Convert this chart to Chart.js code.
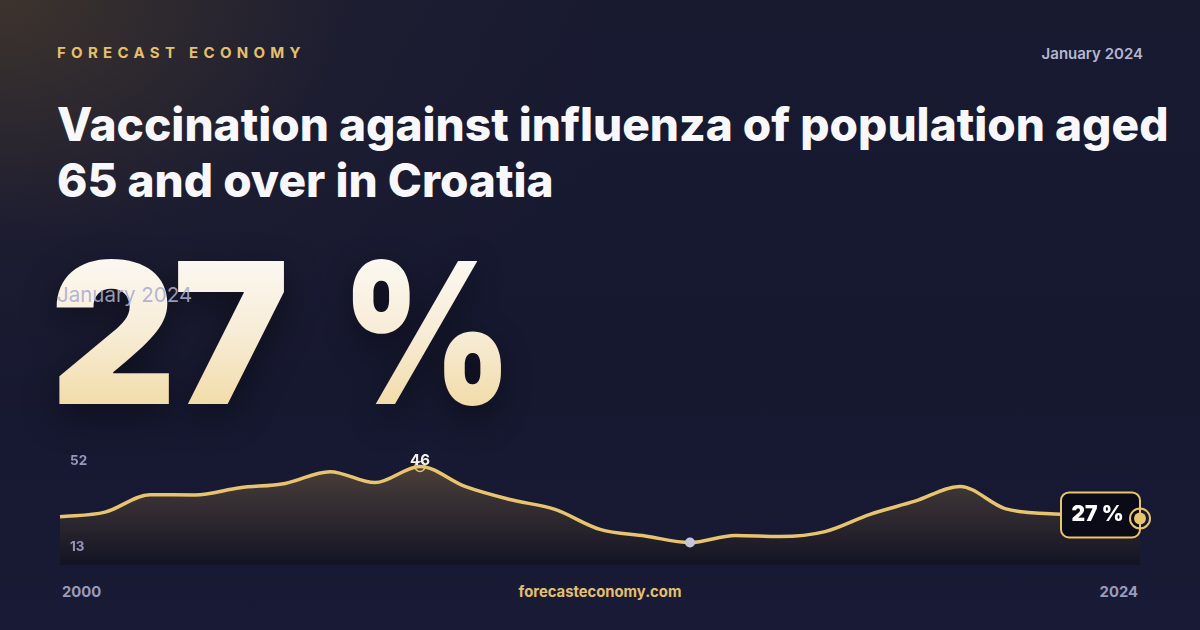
<!DOCTYPE html>
<html>
<head>
<meta charset="utf-8">
<script src="https://cdn.jsdelivr.net/npm/chart.js@4.4.1/dist/chart.umd.min.js"></script>
<style>
  html, body { margin: 0; padding: 0; }
  body {
    width: 1200px; height: 630px; overflow: hidden; position: relative;
    font-family: Inter, "Noto Sans", sans-serif;
    background:
      radial-gradient(ellipse 640px 440px at 0 0, rgba(70,58,44,0.8), rgba(40,36,50,0.3) 55%, rgba(22,24,48,0) 100%),
      linear-gradient(180deg, #181a30 0%, #161830 60%, #191b36 100%);
  }
  .brand { position: absolute; left: 57px; top: 43px; color: #e5c06c; font-weight: 700; font-size: 15px; letter-spacing: 5.3px; }
  .date-top { position: absolute; right: 57px; top: 44px; color: #b4b6cf; font-weight: 600; font-size: 15px; }
  h1 { position: absolute; left: 57px; top: 96px; margin: 0; width: 1130px; color: #f8f8fc; font-weight: 800; font-size: 46px; line-height: 56px; letter-spacing: 0; }
  .big { position: absolute; top: 235px; font-weight: 900; font-size: 196px; line-height: 1; letter-spacing: -4px;
    background: linear-gradient(180deg, #fdfcfa 0%, #f7ecd6 50%, #f0d699 100%);
    -webkit-background-clip: text; background-clip: text; color: transparent;
    filter: drop-shadow(0 12px 18px rgba(0,0,0,0.45)); white-space: pre; }
  .big.pct { transform: scaleX(0.84); transform-origin: 0 0; }
  .date-big { position: absolute; left: 57px; top: 282px; color: rgba(170,172,205,0.88); font-size: 20.5px; font-weight: 400; }
  .ylab { position: absolute; left: 70px; color: #9496ba; font-weight: 700; font-size: 13.5px; z-index: 2; }
  .foot { position: absolute; top: 583px; font-weight: 700; font-size: 14.8px; color: #9a9cbb; }
  #wrap { position: absolute; left: 40px; top: 430px; width: 1120px; height: 135px; z-index: 1; }
</style>
</head>
<body>
<div class="brand">FORECAST ECONOMY</div>
<div class="date-top">January 2024</div>
<h1>Vaccination against influenza of population aged 65 and over in Croatia</h1>
<div class="big" id="bigNum" style="left:50px"></div>
<div class="big pct" id="bigUnit" style="left:341px"></div>
<div class="date-big">January 2024</div>
<div id="wrap"><canvas id="chart" width="1120" height="135"></canvas></div>
<div class="ylab" id="yTop" style="top:452px"></div>
<div class="ylab" id="yBot" style="top:538px"></div>
<div class="foot" id="xFirst" style="left:62px"></div>
<div class="foot" style="left:0; width:1200px; text-align:center; color:#e5c06c">forecasteconomy.com</div>
<div class="foot" id="xLast" style="right:62px"></div>
<script>
// Vaccination coverage, % of population 65+, Croatia
const years = ['2000', '2001', '2002', '2003', '2004', '2005', '2006', '2007', '2008', '2009', '2010', '2011', '2012',
  '2013', '2014', '2015', '2016', '2017', '2018', '2019', '2020', '2021', '2022', '2023', '2024'];
const coverage = [27.6, 29.3, 35.7, 35.6, 38.2, 39.8, 44.1, 40.1, 46, 38.7, 33.9, 30.3, 23.0,
  20.6, 18.2, 20.8, 20.4, 22.2, 28.5, 33.3, 38.7, 30.6, 28.7, 28.1, 27];
const yTicks = ['52', '13'];
const unit = '%';

const latest = coverage[coverage.length - 1];
document.getElementById('bigNum').textContent = String(latest);
document.getElementById('bigUnit').textContent = unit;
document.getElementById('yTop').textContent = yTicks[0];
document.getElementById('yBot').textContent = yTicks[1];
document.getElementById('xFirst').textContent = years[0];
document.getElementById('xLast').textContent = years[years.length - 1];

const gold = '#e8c46f';

function roundRect(ctx, x, y, w, h, r) {
    ctx.beginPath();
    ctx.moveTo(x + r, y);
    ctx.arcTo(x + w, y, x + w, y + h, r);
    ctx.arcTo(x + w, y + h, x, y + h, r);
    ctx.arcTo(x, y + h, x, y, r);
    ctx.arcTo(x, y, x + w, y, r);
    ctx.closePath();
}

// markers for max, min and latest value
const markers = {
    id: 'markers',
    afterDatasetsDraw(chart) {
        const ctx = chart.ctx;
        const pts = chart.getDatasetMeta(0).data;
        const maxI = coverage.indexOf(Math.max(...coverage));
        const minI = coverage.indexOf(Math.min(...coverage));
        const lastI = coverage.length - 1;
        ctx.save();

        // max
        const pMax = pts[maxI];
        ctx.strokeStyle = gold;
        ctx.lineWidth = 1.5;
        ctx.beginPath();
        ctx.arc(pMax.x, pMax.y, 5, 0, Math.PI * 2);
        ctx.stroke();
        ctx.fillStyle = '#f4f1ea';
        ctx.font = '700 15px Inter';
        ctx.textAlign = 'center';
        ctx.textBaseline = 'middle';
        ctx.fillText(String(coverage[maxI]), pMax.x, pMax.y - 6);

        // min
        const pMin = pts[minI];
        ctx.fillStyle = '#c3c6dc';
        ctx.beginPath();
        ctx.arc(pMin.x, pMin.y, 5, 0, Math.PI * 2);
        ctx.fill();

        // latest: box + ring
        const pL = pts[lastI];
        const bw = 79, bh = 45;
        const bx = pL.x - bw, by = pL.y - 26;
        roundRect(ctx, bx, by, bw, bh, 8);
        ctx.fillStyle = '#0b0b17';
        ctx.fill();
        ctx.strokeStyle = gold;
        ctx.lineWidth = 2;
        ctx.stroke();
        ctx.fillStyle = '#ffffff';
        ctx.font = '900 21px Inter';
        ctx.fillText(coverage[lastI] + ' ' + unit, bx + bw / 2 - 3, by + bh / 2);

        ctx.beginPath();
        ctx.arc(pL.x, pL.y, 10, 0, Math.PI * 2);
        ctx.strokeStyle = gold;
        ctx.lineWidth = 2;
        ctx.stroke();
        ctx.beginPath();
        ctx.arc(pL.x, pL.y, 6, 0, Math.PI * 2);
        ctx.fillStyle = gold;
        ctx.fill();
        ctx.restore();
    }
};

new Chart(document.getElementById('chart'), {
    type: 'line',
    data: {
        labels: years,
        datasets: [{
            data: coverage,
            borderColor: gold,
            borderWidth: 3.5,
            pointRadius: 0,
            cubicInterpolationMode: 'monotone',
            fill: 'start',
            backgroundColor: (c) => {
                const area = c.chart.chartArea;
                if (!area) return 'rgba(0,0,0,0)';
                const g = c.chart.ctx.createLinearGradient(0, area.top, 0, area.bottom);
                g.addColorStop(0, 'rgba(96,80,62,0.85)');
                g.addColorStop(0.5, 'rgba(58,50,50,0.8)');
                g.addColorStop(1, 'rgba(18,18,34,0.9)');
                return g;
            }
        }]
    },
    options: {
        responsive: false,
        animation: false,
        devicePixelRatio: 1,
        layout: { padding: { left: 20, right: 20, top: 20, bottom: 0 } },
        plugins: { legend: { display: false }, tooltip: { enabled: false } },
        scales: {
            x: { display: false },
            y: { display: false, min: 10, max: 52 }
        }
    },
    plugins: [markers]
});
</script>
</body>
</html>
